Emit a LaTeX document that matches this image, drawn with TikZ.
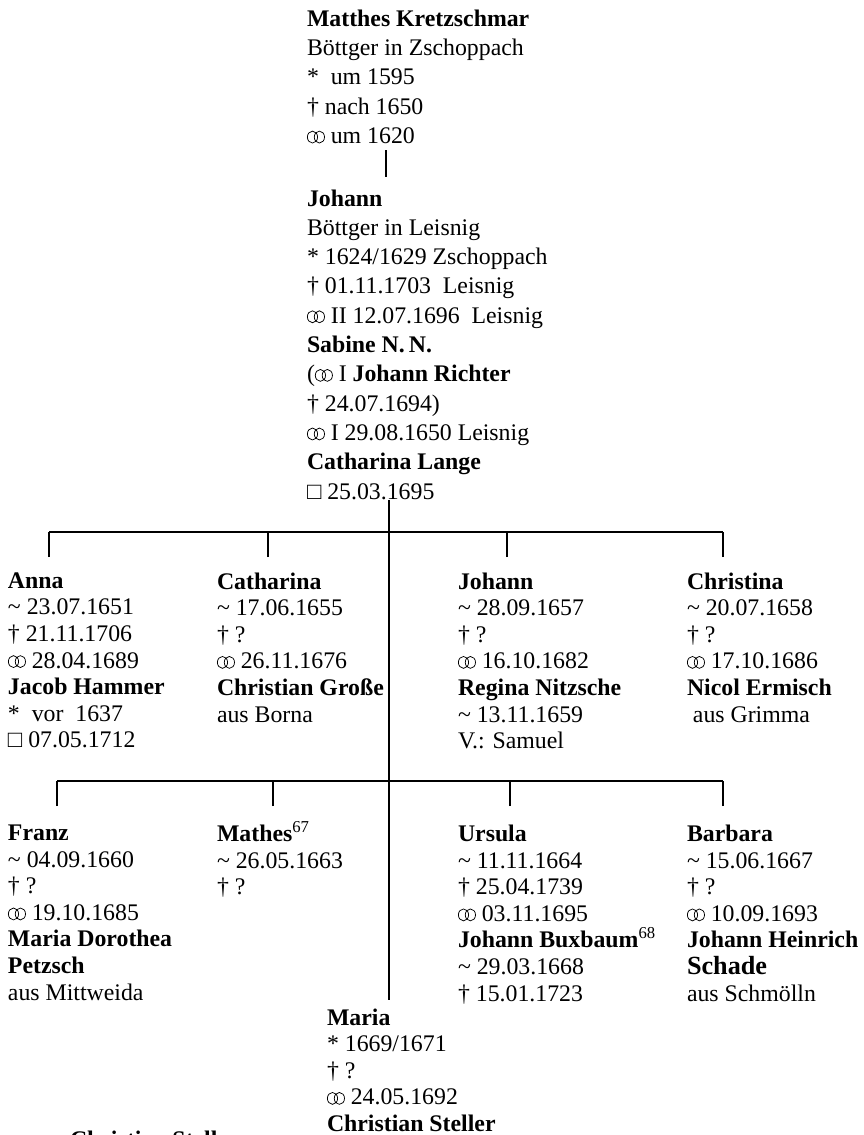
\documentclass[tikz,border=0pt]{standalone}
\usepackage{fontspec}
\setmainfont{Liberation Serif}
% interlocking rings (marriage sign)
\newcommand\mrg{\tikz[baseline=0pt,line width=0.75pt]{\draw (0.23em,0.27em) ellipse[x radius=0.215em,y radius=0.25em] (0.52em,0.27em) ellipse[x radius=0.215em,y radius=0.25em];}}
\newcommand\bapt{\textasciitilde}
\newcommand\fnref[1]{\smash{\textsuperscript{\mdseries #1}}}
\begin{document}
\begin{tikzpicture}[x=1pt,y=-1pt,
  person/.style={anchor=north west,inner sep=0pt,outer sep=0pt,align=left,font=\fontsize{23.8}{26.6}\selectfont},
  elder/.style={person,font=\fontsize{23.8}{29.3}\selectfont},
  link/.style={line width=1.2pt}]
\useasboundingbox[fill=white] (0,0) rectangle (864,1135);

% first generation
\node[elder] (top) at (307,9.8) {\textbf{Matthes Kretzschmar}\\
Böttger in Zschoppach\\
*\ \ um 1595\\
† nach 1650\\
\mrg{} um 1620};

\node[elder] (parents) at (307,189.5) {\textbf{Johann}\\
Böttger in Leisnig\\
* 1624/1629 Zschoppach\\
† 01.11.1703\ \ Leisnig\\
\mrg{} II 12.07.1696\ \ Leisnig\\
\textbf{Sabine N.\,N.}\\
(\mrg{} I \textbf{Johann Richter}\\
† 24.07.1694)\\
\mrg{} I 29.08.1650 Leisnig\\
\textbf{Catharina Lange}\\
□ 25.03.1695};

% children, first row
\node[person] (anna) at (8,572.5) {\textbf{Anna}\\
\bapt{} 23.07.1651\\
† 21.11.1706\\
\mrg{} 28.04.1689\\
\textbf{Jacob Hammer}\\
*\ \ vor\ \ 1637\\
□ 07.05.1712};

\node[person] (catharina) at (217,572.5) {\textbf{Catharina}\\
\bapt{} 17.06.1655\\
† ?\\
\mrg{} 26.11.1676\\
\textbf{Christian Große}\\
aus Borna};

\node[person] (johann) at (458,572.5) {\textbf{Johann}\\
\bapt{} 28.09.1657\\
† ?\\
\mrg{} 16.10.1682\\
\textbf{Regina Nitzsche}\\
\bapt{} 13.11.1659\\
V.: Samuel};

\node[person] (christina) at (687,572.5) {\textbf{Christina}\\
\bapt{} 20.07.1658\\
† ?\\
\mrg{} 17.10.1686\\
\textbf{Nicol Ermisch}\\
\ aus Grimma};

% children, second row
\node[person] (franz) at (8,825) {\textbf{Franz}\\
\bapt{} 04.09.1660\\
† ?\\
\mrg{} 19.10.1685\\
\textbf{Maria Dorothea}\\
\textbf{Petzsch}\\
aus Mittweida};

\node[person] (mathes) at (217,825) {\textbf{Mathes}\fnref{67}\\
\bapt{} 26.05.1663\\
† ?};

\node[person] (ursula) at (458,825) {\textbf{Ursula}\\
\bapt{} 11.11.1664\\
† 25.04.1739\\
\mrg{} 03.11.1695\\
\textbf{Johann Buxbaum}\fnref{68}\\
\bapt{} 29.03.1668\\
† 15.01.1723};

\node[person] (barbara) at (687,825) {\textbf{Barbara}\\
\bapt{} 15.06.1667\\
† ?\\
\mrg{} 10.09.1693\\
\textbf{Johann Heinrich}\\
{\fontsize{26.2}{26.6}\selectfont\bfseries Schade}\\
aus Schmölln};

% last child
\node[person] (maria) at (327,1008.5) {\textbf{Maria}\\
* 1669/1671\\
† ?\\
\mrg{} 24.05.1692\\
\textbf{Christian Steller}};

\node[person] (steller) at (70,1131) {\textbf{Christian Steller}};

% descent lines
\coordinate (up) at (386,150);
\coordinate (dn) at (386,177);
\draw[link] (up) -- (dn);

\coordinate (trunkTop) at (389,500);
\coordinate (trunkEnd) at (389,1000);
\draw[link] (trunkTop) -- (trunkEnd);

\coordinate (busAw) at (49,532);
\coordinate (busAe) at (723,532);
\draw[link] (busAw) -- (busAe);
\coordinate (kA1) at (49,557);
\coordinate (kA2) at (268,557);
\coordinate (kA3) at (507,557);
\coordinate (kA4) at (723,557);
\foreach \k in {kA1,kA2,kA3,kA4} \draw[link] (\k) -- (\k |- busAw);

\coordinate (busBw) at (57,781);
\coordinate (busBe) at (723,781);
\draw[link] (busBw) -- (busBe);
\coordinate (kB1) at (57,806);
\coordinate (kB2) at (273,806);
\coordinate (kB3) at (510,806);
\coordinate (kB4) at (723,806);
\foreach \k in {kB1,kB2,kB3,kB4} \draw[link] (\k) -- (\k |- busBw);
\end{tikzpicture}
\end{document}
